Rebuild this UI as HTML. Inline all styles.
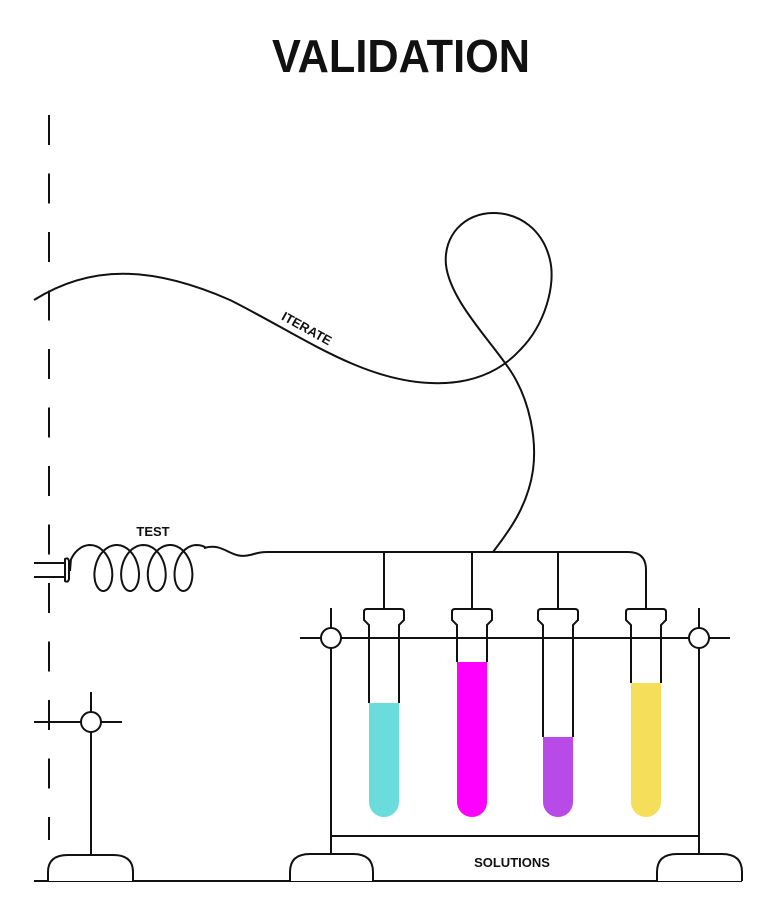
<!DOCTYPE html>
<html><head><meta charset="utf-8"><style>
html,body{margin:0;padding:0;background:#fff;width:780px;height:916px;overflow:hidden}
text{font-family:"Liberation Sans",sans-serif;font-weight:bold;fill:#111}
</style></head><body>
<svg width="780" height="916" viewBox="0 0 780 916" xmlns="http://www.w3.org/2000/svg">
<text x="401" y="72" font-size="46" text-anchor="middle" textLength="258" lengthAdjust="spacingAndGlyphs">VALIDATION</text>
<g fill="none" stroke="#111" stroke-width="2">
<line x1="49" y1="115" x2="49" y2="840" stroke-dasharray="30 28.5"/>
<path d="M34,300 C90,265 150,265 230,300 C300,335 360,380 430,383 C470,385 500,372 520,350 C545,325 556,285 550,260 C543,230 520,213 493,213 C465,213 443,235 446,265 C450,300 490,340 510,370 C530,400 537,440 533,470 C528,505 510,530 493,552"/>
<path id="coil" d=""/>
<path d="M204,548 C225,542 230,560 250,555 C258,553 260,552 268,552 L628,552 Q646,552 646,570 L646,609"/>
<line x1="34" y1="563" x2="65" y2="563"/><line x1="34" y1="577" x2="65" y2="577"/>
<path d="M65,559 Q68,557 69,561 V579 Q68,583 65,581 Z" fill="#fff"/>
<line x1="384" y1="552" x2="384" y2="609"/><line x1="472" y1="552" x2="472" y2="609"/><line x1="558" y1="552" x2="558" y2="609"/>
<line x1="34" y1="881" x2="742" y2="881"/>
<line x1="34" y1="722" x2="122" y2="722"/><line x1="91" y1="692" x2="91" y2="855"/>
<line x1="300" y1="638" x2="730" y2="638"/>
<line x1="331" y1="608" x2="331" y2="855"/><line x1="699" y1="608" x2="699" y2="855"/>
<line x1="331" y1="836" x2="699" y2="836"/>
<path d="M48,881 V872 Q48,855 68,855 H113 Q133,855 133,872 V881" fill="#fff"/>
<path d="M290,881 V872 Q290,854 310,854 H353 Q373,854 373,872 V881" fill="#fff"/>
<path d="M657,881 V872 Q657,854 677,854 H722 Q742,854 742,872 V881" fill="#fff"/>
<circle cx="91" cy="722" r="10" fill="#fff"/>
<circle cx="331" cy="638" r="10" fill="#fff"/>
<circle cx="699" cy="638" r="10" fill="#fff"/>
</g>
<g>
<path d="M369,703 L369,802 A15,15 0 0 0 399,802 L399,703 Z" fill="#6ADCDC"/>
<path d="M457,662 L457,802 A15,15 0 0 0 487,802 L487,662 Z" fill="#FF00FF"/>
<path d="M543,737 L543,802 A15,15 0 0 0 573,802 L573,737 Z" fill="#B84AE8"/>
<path d="M631,683 L631,802 A15,15 0 0 0 661,802 L661,683 Z" fill="#F5DF5A"/>
</g>
<g fill="none" stroke="#111" stroke-width="2">
<path d="M369,703 V625 L364,620 V612 Q364,609 367,609 H401 Q404,609 404,612 V620 L399,625 V703"/>
<path d="M457,662 V625 L452,620 V612 Q452,609 455,609 H489 Q492,609 492,612 V620 L487,625 V662"/>
<path d="M543,737 V625 L538,620 V612 Q538,609 541,609 H575 Q578,609 578,612 V620 L573,625 V737"/>
<path d="M631,683 V625 L626,620 V612 Q626,609 629,609 H663 Q666,609 666,612 V620 L661,625 V683"/>
</g>
<text x="307" y="333" font-size="13" text-anchor="middle" transform="rotate(29 307 328)">ITERATE</text>
<text x="153" y="536" font-size="13" text-anchor="middle">TEST</text>
<text x="512" y="867" font-size="13" text-anchor="middle">SOLUTIONS</text>
<script>
var d="M70,571 ";
var xs=90,k=4.25,b=15,h=23,yc=568;
for(var u=-1.2;u<=8*Math.PI+0.5;u+=0.08){var x=xs+k*u+b*Math.sin(u),y=yc-h*Math.cos(u);d+="L"+x.toFixed(1)+","+y.toFixed(1)+" ";}
d+="L204,548";
document.getElementById("coil").setAttribute("d",d);
</script>
</svg>
</body></html>
